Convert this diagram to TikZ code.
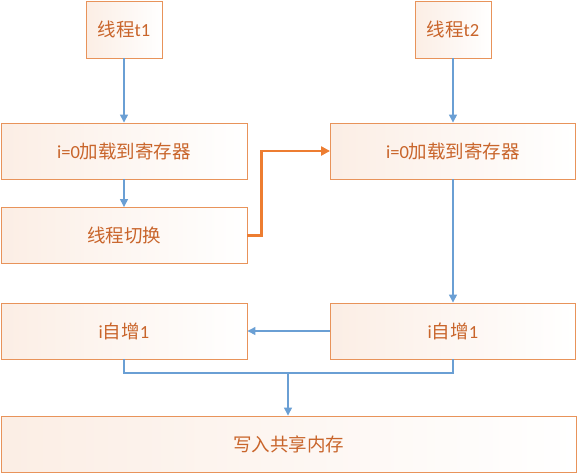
\documentclass[tikz,border=0pt]{standalone}
\usepackage{fontspec}
\setmainfont{Carlito}
\newfontfamily\cjk{Noto Sans CJK SC}
\usetikzlibrary{arrows.meta}
\definecolor{boxline}{HTML}{E8935A}
\definecolor{boxtext}{HTML}{C9652B}
\definecolor{flowblue}{HTML}{6A9FD4}
\definecolor{switchorange}{HTML}{ED7D31}
\tikzset{
  stepbox/.style={draw=boxline, line width=0.9pt, inner sep=0pt,
    left color=boxline!16, right color=white, text=boxtext,
    font=\fontsize{18.5}{21}\selectfont, minimum height=56pt},
  flow/.style={draw=flowblue, line width=1.3pt, >={Triangle[length=8pt,width=8pt]}},
  jump/.style={draw=switchorange, line width=2.4pt, >={Triangle[length=9pt,width=9pt]}}
}
\begin{document}
\begin{tikzpicture}[x=1pt,y=-1pt]
\useasboundingbox (0,0) rectangle (577,474);
% thread heads
\node[stepbox, minimum width=76pt, minimum height=57pt] (t1) at (124,29.5) {{\cjk 线程}t1};
\node[stepbox, minimum width=76pt, minimum height=57pt] (t2) at (453,29.5) {{\cjk 线程}t2};
% left column
\node[stepbox, minimum width=246pt] (loadA) at (124,151)   {i=0{\cjk 加载到寄存器}};
\node[stepbox, minimum width=246pt] (swA)   at (124,235.5) {\cjk 线程切换};
\node[stepbox, minimum width=246pt] (incA)  at (124,331)   {i{\cjk 自增}1};
% right column
\node[stepbox, minimum width=245pt] (loadB) at (453,151)   {i=0{\cjk 加载到寄存器}};
\node[stepbox, minimum width=245pt] (incB)  at (453,331)   {i{\cjk 自增}1};
% bottom
\node[stepbox, minimum width=575pt] (mem) at (288.5,444) {\cjk 写入共享内存};
\coordinate (join) at (288,373);

\draw[flow,->] (t1) -- (loadA);
\draw[flow,->] (loadA) -- (swA);
\draw[flow,->] (t2) -- (loadB);
\draw[flow,->] (loadB) -- (incB);
\draw[flow,->] (incB) -- (incA);
\draw[flow] (incA.south) |- (join) -| (incB.south);
\draw[flow,->] (join) -- (join |- mem.north);
\draw[jump,->] (swA.east) -- ++(14,0) |- (loadB.west);
\end{tikzpicture}
\end{document}
